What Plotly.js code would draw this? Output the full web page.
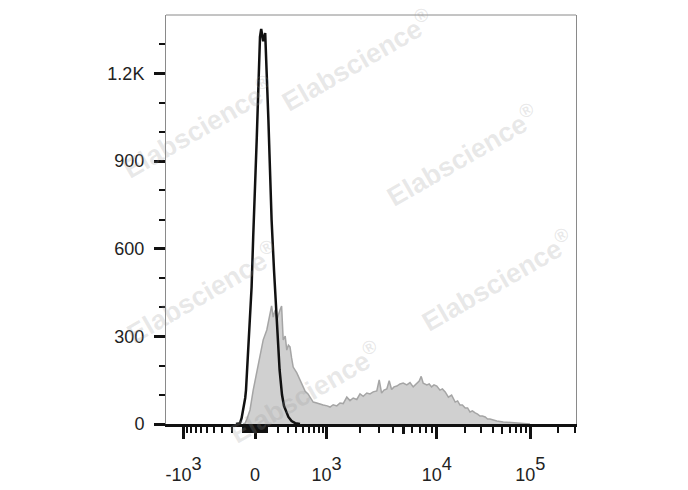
<!DOCTYPE html>
<html><head><meta charset="utf-8">
<script src="https://cdn.plot.ly/plotly-3.0.1.min.js"></script>
<style>html,body{margin:0;padding:0;background:#fff;}</style>
</head><body><div id="chart" style="width:688px;height:490px;"></div>
<script>
// Flow cytometry histograms, x in display channels (0-1025), y in cell counts
const stainedChannel = [193,198,203,210,218,227,235,243,252,256,
  260,264,268,273,277,281,285,289,293,298,
  302,306,310,314,318,327,335,343,348,355,
  360,368,377,385,393,403,410,418,427,435,
  443,452,460,468,477,485,493,502,510,518,
  527,533,539,545,552,558,564,570,577,585,
  593,602,610,618,627,633,638,643,652,658,
  664,670,677,685,691,698,706,714,723,729,
  735,741,748,754,760,766,773,779,785,791,
  798,804,810,818,827,843,864,885,910];
const stainedCount = [0,3,20,48,116,175,229,288,322,349,
  366,404,366,390,356,377,390,404,288,301,
  253,270,264,226,195,175,151,130,112,103,
  92,75,72,68,65,62,58,66,62,72,
  70,92,80,89,84,103,95,106,103,110,
  113,151,106,116,120,148,118,127,130,137,
  140,134,142,127,140,147,163,140,134,137,
  127,134,130,116,120,110,92,99,75,79,
  65,65,55,55,41,45,38,34,27,27,
  24,17,17,14,10,7,5,3,0];
const controlChannel = [175,185,189,193,198,200,206,210,214,218,223,227,231,235,238,240,
  243,248,252,256,260,264,270,277,284,290,295,302,306,314,323,335];
const controlCount = [0,3,20,48,89,116,253,356,469,640,811,982,1154,1325,1352,1335,
  1310,1338,1212,1041,869,698,527,356,185,100,62,38,24,10,3,0];

const xTickValues = [-1000, 0, 1000, 10000, 100000];
const base = s => '<span style="font-size:18px">' + s + '</span>';
const xTickLabels = [base('-10') + '<sup>3</sup>', base('0'),
  base('10') + '<sup>3</sup>', base('10') + '<sup>4</sup>', base('10') + '<sup>5</sup>'];
const xMediumValues = [5000, 50000];
const xMinorValues = [-900,-800,-700,-600,-500,-400,-300,-200,-100,
  -90,-80,-70,-60,-50,-40,-30,-20,-10,10,20,30,40,50,60,70,80,90,
  100,200,300,400,500,600,700,800,900,
  2000,3000,4000,6000,7000,8000,9000,
  20000,30000,40000,60000,70000,80000,90000,200000,300000];
const yTickValues = [0, 300, 600, 900, 1200];
const yTickLabels = ['0', '300', '600', '900', '1.2K'];
const yMinorValues = [100,200,400,500,700,800,1000,1100,1300];
const watermarkText = 'Elabscience<sup>®</sup>';
const watermarkPos = [[0.466,0.89],[0.078,0.726],[0.722,0.658],[0.807,0.352],[0.088,0.323],[0.339,0.078]];

// biexponential-like display transform: value -> channel
function toChannel(v){
  const s = Math.sign(v), a = Math.abs(v);
  let d;
  if (a <= 1000) d = 178.75*Math.asinh(a/300)/Math.asinh(1000/300);
  else if (a <= 1e4) d = 178.75 + 275.75*Math.log10(a/1000);
  else d = 178.75 + 275.75 + 233.75*Math.log10(a/1e4);
  return 222.5 + s*d;
}
const xRange = [0, 1025];
const font = 'Liberation Sans, Arial, sans-serif';

const traces = [
  {x: stainedChannel, y: stainedCount, type:'scatter', mode:'lines', fill:'tozeroy',
   fillcolor:'rgb(208,208,208)', line:{color:'rgb(165,165,165)', width:1.5}, hoverinfo:'skip'},
  {x: controlChannel, y: controlCount, type:'scatter', mode:'lines',
   line:{color:'#111', width:2.5}, hoverinfo:'skip'},
  {x: [], y: [], type:'scatter', mode:'lines', xaxis:'x2', yaxis:'y', hoverinfo:'skip'}
];

const layout = {
  width:688, height:490,
  margin:{l:166, r:112, t:15, b:66},
  paper_bgcolor:'#fff', plot_bgcolor:'#fff',
  showlegend:false,
  xaxis:{
    range:xRange, tickmode:'array', tickvals:xTickValues.map(toChannel), ticktext:xTickLabels,
    ticks:'outside', ticklen:12, tickwidth:3, tickcolor:'#111',
    showline:true, linecolor:'#111', linewidth:3,
    showgrid:false, zeroline:false, fixedrange:true, ticklabelstandoff:11,
    tickfont:{family:font, size:26, color:'#222'},
    minor:{tickmode:'array', tickvals:xMinorValues.map(toChannel).filter(c=>c>=0&&c<=1025),
      ticks:'outside', ticklen:6, tickwidth:2, tickcolor:'#111', showgrid:false}
  },
  xaxis2:{
    overlaying:'x', anchor:'y', side:'bottom', range:xRange,
    tickmode:'array', tickvals:xMediumValues.map(toChannel),
    ticks:'outside', ticklen:9, tickwidth:2.5, tickcolor:'#111',
    showticklabels:false, showline:false, showgrid:false, zeroline:false, fixedrange:true
  },
  yaxis:{
    range:[0,1400], tickmode:'array', tickvals:yTickValues, ticktext:yTickLabels,
    ticks:'outside', ticklen:11, tickwidth:3, tickcolor:'#111',
    showline:true, linecolor:'#8a8a8a', linewidth:1, mirror:true,
    showgrid:false, zeroline:false, fixedrange:true, ticklabelstandoff:6,
    tickfont:{family:font, size:18, color:'#222'},
    minor:{tickmode:'array', tickvals:yMinorValues, ticks:'outside', ticklen:6, tickwidth:2, tickcolor:'#111', showgrid:false}
  },
  shapes:[{type:'line', xref:'paper', yref:'paper', x0:0, x1:1, y0:1, y1:1, line:{color:'#8a8a8a', width:1}}],
  annotations: watermarkPos.map(p => ({
    xref:'paper', yref:'paper', x:p[0], y:p[1], xanchor:'center', yanchor:'middle',
    text:watermarkText, showarrow:false,
    textangle:-30, font:{family:font, size:27, weight:'bold', color:'rgba(150,150,150,0.22)'}
  }))
};

Plotly.newPlot('chart', traces, layout, {staticPlot:true, displayModeBar:false});
</script>
</body></html>
